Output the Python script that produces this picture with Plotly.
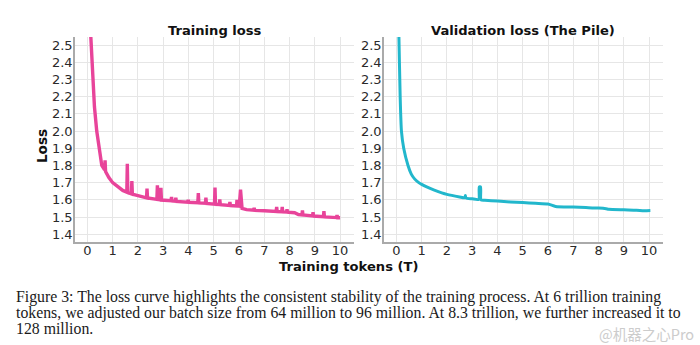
import plotly.graph_objects as go

# ---------------- data ----------------
train_t = [0.10, 0.20, 0.28, 0.37, 0.47, 0.57, 0.68, 0.70, 0.72, 0.85, 1.00, 1.20, 1.40,
           1.56, 1.58, 1.60, 1.74, 1.76, 1.78, 2.00, 2.34, 2.36, 2.38, 2.75, 2.77, 2.79,
           2.89, 2.91, 2.93, 3.31, 3.33, 3.35, 3.48, 3.50, 3.52, 3.97, 3.99, 4.01, 4.37,
           4.39, 4.41, 4.67, 4.69, 4.71, 5.03, 5.05, 5.07, 5.22, 5.24, 5.26, 5.62, 5.64,
           5.66, 5.90, 5.92, 5.94, 6.01, 6.06, 6.12, 6.30, 6.58, 6.60, 6.62, 7.00, 7.47,
           7.49, 7.51, 7.69, 7.71, 7.73, 7.88, 7.90, 7.92, 8.20, 8.35, 8.49, 8.51, 8.53,
           8.91, 8.93, 8.95, 9.34, 9.36, 9.38, 9.86, 9.88, 9.90, 10.00]
train_loss = [2.65, 2.33, 2.14, 2.00, 1.90, 1.80, 1.775, 1.83, 1.765, 1.73, 1.70, 1.675, 1.655,
              1.645, 1.81, 1.643, 1.635, 1.71, 1.633, 1.625, 1.612, 1.665, 1.611, 1.603, 1.685, 1.602,
              1.600, 1.670, 1.599, 1.595, 1.617, 1.594, 1.592, 1.612, 1.591, 1.587, 1.600, 1.586, 1.583,
              1.640, 1.582, 1.580, 1.613, 1.579, 1.575, 1.672, 1.574, 1.573, 1.602, 1.572, 1.568, 1.588,
              1.567, 1.565, 1.600, 1.564, 1.563, 1.660, 1.550, 1.543, 1.540, 1.553, 1.539, 1.537, 1.533,
              1.559, 1.532, 1.531, 1.559, 1.530, 1.529, 1.545, 1.528, 1.525, 1.515, 1.513, 1.538, 1.512,
              1.507, 1.528, 1.506, 1.502, 1.535, 1.501, 1.497, 1.512, 1.496, 1.496]

val_t = [0.07, 0.10, 0.15, 0.20, 0.29, 0.46, 0.59, 0.72, 0.86, 1.00, 1.20, 1.50, 2.00, 2.50,
         2.71, 2.73, 2.75, 3.00, 3.26, 3.28, 3.33, 3.35, 3.50, 4.00, 4.50, 5.00, 5.50, 6.00,
         6.30, 7.00, 7.50, 8.00, 8.30, 8.40, 9.00, 9.50, 9.80, 10.05]
val_loss = [2.75, 2.55, 2.20, 2.00, 1.90, 1.80, 1.75, 1.722, 1.703, 1.69, 1.675, 1.657, 1.632,
            1.617, 1.612, 1.625, 1.611, 1.606, 1.603, 1.675, 1.676, 1.600, 1.598, 1.593, 1.588,
            1.584, 1.580, 1.576, 1.562, 1.558, 1.555, 1.552, 1.548, 1.545, 1.542, 1.540, 1.537, 1.538]

x_ticks = list(range(0, 11))
y_ticks = [1.4, 1.5, 1.6, 1.7, 1.8, 1.9, 2.0, 2.1, 2.2, 2.3, 2.4, 2.5]

titles = ["Training loss", "Validation loss (The Pile)"]
caption = [
    "Figure 3: The loss curve highlights the consistent stability of the training process. At 6 trillion training",
    "tokens, we adjusted our batch size from 64 million to 96 million. At 8.3 trillion, we further increased it to",
    "128 million.",
]

# ---------------- figure ----------------
W, H = 700, 345
fig = go.Figure()
fig.add_trace(go.Scatter(x=train_t, y=train_loss, mode="lines",
                         line=dict(color="#e8449a", width=3.4), xaxis="x", yaxis="y",
                         showlegend=False))
fig.add_trace(go.Scatter(x=val_t, y=val_loss, mode="lines",
                         line=dict(color="#22b7cc", width=3, shape="spline", smoothing=0.6),
                         xaxis="x2", yaxis="y2", showlegend=False))

def px_x(p):
    return p / W

def px_y(p):
    return (H - p) / H

tickfont = dict(family="DejaVu Sans", size=13, color="#2a2a2a")
common_x = dict(range=[-0.49, 10.55], tickvals=x_ticks, showgrid=True, gridcolor="#e6e6e6",
                gridwidth=1, zeroline=False, showline=True, linecolor="#aaaaaa", linewidth=1.5,
                ticks="", tickfont=tickfont, fixedrange=True, ticklabelstandoff=-4)
common_y = dict(range=[1.355, 2.547], tickvals=y_ticks, tickformat=".1f", showgrid=True,
                gridcolor="#e6e6e6", gridwidth=1, zeroline=False, showline=True,
                linecolor="#aaaaaa", linewidth=1.5, ticks="", tickfont=tickfont, fixedrange=True,
                ticklabelstandoff=-2)

ydom = [px_y(242), px_y(37)]
fig.update_layout(
    width=W, height=H,
    margin=dict(l=0, r=0, t=0, b=0),
    paper_bgcolor="white", plot_bgcolor="white",
    xaxis=dict(domain=[px_x(75), px_x(354)], anchor="y", **common_x),
    yaxis=dict(domain=ydom, anchor="x", **common_y),
    xaxis2=dict(domain=[px_x(384), px_x(663)], anchor="y2", **common_x),
    yaxis2=dict(domain=ydom, anchor="x2", **common_y),
)

ann = []
for cx, t in zip([215, 523], titles):
    ann.append(dict(x=px_x(cx), y=px_y(30), xref="paper", yref="paper", text="<b>%s</b>" % t,
                    showarrow=False, xanchor="center", yanchor="middle",
                    font=dict(family="DejaVu Sans", size=13.1, color="#111111")))
ann.append(dict(x=px_x(42), y=px_y(146), xref="paper", yref="paper", text="<b>Loss</b>",
                textangle=-90, showarrow=False, xanchor="center", yanchor="middle",
                font=dict(family="DejaVu Sans", size=13.5, color="#111111")))
ann.append(dict(x=px_x(348), y=px_y(266), xref="paper", yref="paper",
                text="<b>Training tokens (T)</b>", showarrow=False, xanchor="center",
                yanchor="middle", font=dict(family="DejaVu Sans", size=13.1, color="#111111")))
for i, line in enumerate(caption):
    ann.append(dict(x=px_x(14), y=px_y(297 + 15.5 * i), xref="paper", yref="paper", text=line,
                    showarrow=False, xanchor="left", yanchor="middle",
                    font=dict(family="Liberation Serif", size=15.8, color="#1a1a1a")))
ann.append(dict(x=px_x(696), y=px_y(333), xref="paper", yref="paper", text="@机器之心Pro",
                showarrow=False, xanchor="right", yanchor="middle",
                font=dict(family="Noto Sans CJK SC", size=14.5, color="#cccccc")))
fig.update_layout(annotations=ann)

fig.write_html("out.html")
